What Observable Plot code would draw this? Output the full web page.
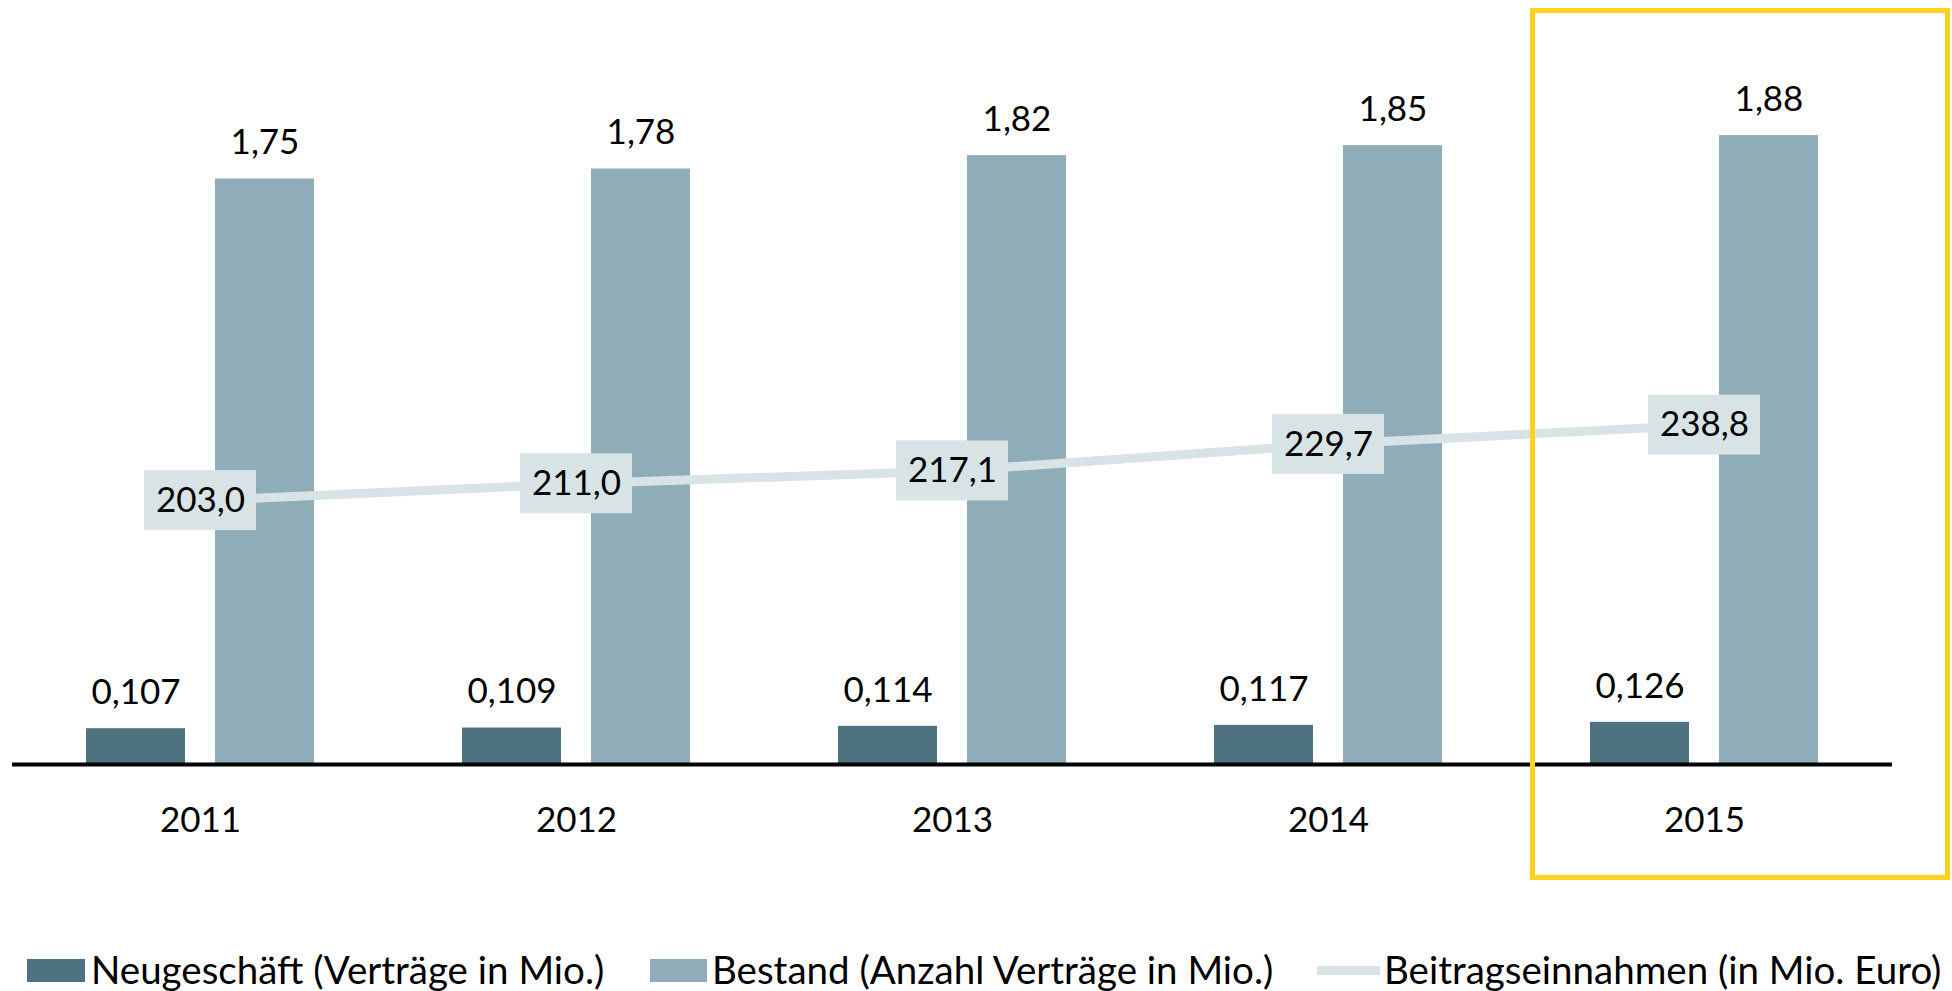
<!DOCTYPE html>
<html>
<head>
<meta charset="utf-8">
<script src="https://cdn.jsdelivr.net/npm/d3@7"></script>
<script src="https://cdn.jsdelivr.net/npm/@observablehq/plot@0.6"></script>
<style>
  html, body { margin: 0; padding: 0; background: #ffffff; }
  #chart { width: 1952px; }
  #legend { position: relative; width: 1952px; height: 61px; font-family: Lato, sans-serif; font-size: 38.5px; color: #000; }
  #legend .sw { position: absolute; }
  #legend .tx { position: absolute; top: 17px; line-height: 44px; white-space: nowrap; }
</style>
</head>
<body>
<div id="chart"></div>
<div id="legend"></div>
<script>
// ---- data ----
const years = ["2011", "2012", "2013", "2014", "2015"];
const neugeschaeft = [0.107, 0.109, 0.114, 0.117, 0.126];
const bestand = [1.75, 1.78, 1.82, 1.85, 1.88];
const beitrag = [203.0, 211.0, 217.1, 229.7, 238.8];
const highlightYear = ["2015"];
const seriesNames = ["Neugeschäft (Verträge in Mio.)", "Bestand (Anzahl Verträge in Mio.)", "Beitragseinnahmen (in Mio. Euro)"];
const colors = ["#4E7280", "#8FADB8", "#D8E3E5"];

// secondary axis (Beitragseinnahmen) mapped into the primary axis units
const secondaryDomain = [78, 395];
const toPrimary = d3.scaleLinear(secondaryDomain, [0, 2]);

const de = d3.formatLocale({decimal: ",", thousands: ".", grouping: [3], currency: ["", " €"]});
const f3 = de.format(".3f"), f2 = de.format(".2f"), f1 = de.format(".1f");

const rows = years.map((year, i) => ({
  year,
  neu: neugeschaeft[i],
  bestand: bestand[i],
  beitrag: beitrag[i],
  lineY: toPrimary(beitrag[i])
}));

const FS = 35;
const chart = Plot.plot({
  width: 1952,
  height: 930,
  marginLeft: 12,
  marginRight: 60,
  marginTop: 28,
  marginBottom: 166,
  style: {fontFamily: "Lato, sans-serif", background: "#ffffff", overflow: "visible", color: "#000"},
  x: {type: "band", domain: years, padding: 0},
  y: {domain: [0, 2.2], axis: null},
  marks: [
    Plot.barY(rows, {x: "year", y: "neu", fill: colors[0], insetLeft: 74, insetRight: 203}),
    Plot.barY(rows, {x: "year", y: "bestand", fill: colors[1], insetLeft: 203, insetRight: 74}),
    Plot.ruleY([0], {stroke: "#000", strokeWidth: 4}),
    Plot.text(rows, {x: "year", y: "neu", text: d => f3(d.neu), dx: -64.5, dy: -36, fontSize: FS, fill: "#000"}),
    Plot.text(rows, {x: "year", y: "bestand", text: d => f2(d.bestand), dx: 64.5, dy: -36, fontSize: FS, fill: "#000"}),
    Plot.line(rows, {x: "year", y: "lineY", stroke: colors[2], strokeWidth: 9}),
    Plot.barY(rows, {x: "year", y1: "lineY", y2: "lineY", fill: colors[2], insetLeft: 132, insetRight: 132, insetTop: -30, insetBottom: -30}),
    Plot.text(rows, {x: "year", y: "lineY", text: d => f1(d.beitrag), fontSize: FS, fill: "#000"}),
    Plot.axisX({tickSize: 0, tickPadding: 43, fontSize: FS, label: null, color: "#000"}),
    Plot.cell(highlightYear, {x: d => d, fill: "none", stroke: "#FFD21F", strokeWidth: 5,
      insetLeft: 16.5, insetRight: -55.5, insetTop: -17.5, insetBottom: -113.5})
  ]
});
document.getElementById("chart").appendChild(chart);

// ---- legend ----
const legend = document.getElementById("legend");
const items = [
  {sw: {left: 27, top: 29, w: 58, h: 23}, tx: 91},
  {sw: {left: 650, top: 29, w: 57, h: 23}, tx: 712},
  {sw: {left: 1317, top: 36, w: 63, h: 9}, tx: 1384}
];
items.forEach((it, i) => {
  const s = document.createElement("div");
  s.className = "sw";
  s.style.left = it.sw.left + "px";
  s.style.top = it.sw.top + "px";
  s.style.width = it.sw.w + "px";
  s.style.height = it.sw.h + "px";
  s.style.background = colors[i];
  legend.appendChild(s);
  const t = document.createElement("div");
  t.className = "tx";
  t.style.left = it.tx + "px";
  t.textContent = seriesNames[i];
  legend.appendChild(t);
});
</script>
</body>
</html>
